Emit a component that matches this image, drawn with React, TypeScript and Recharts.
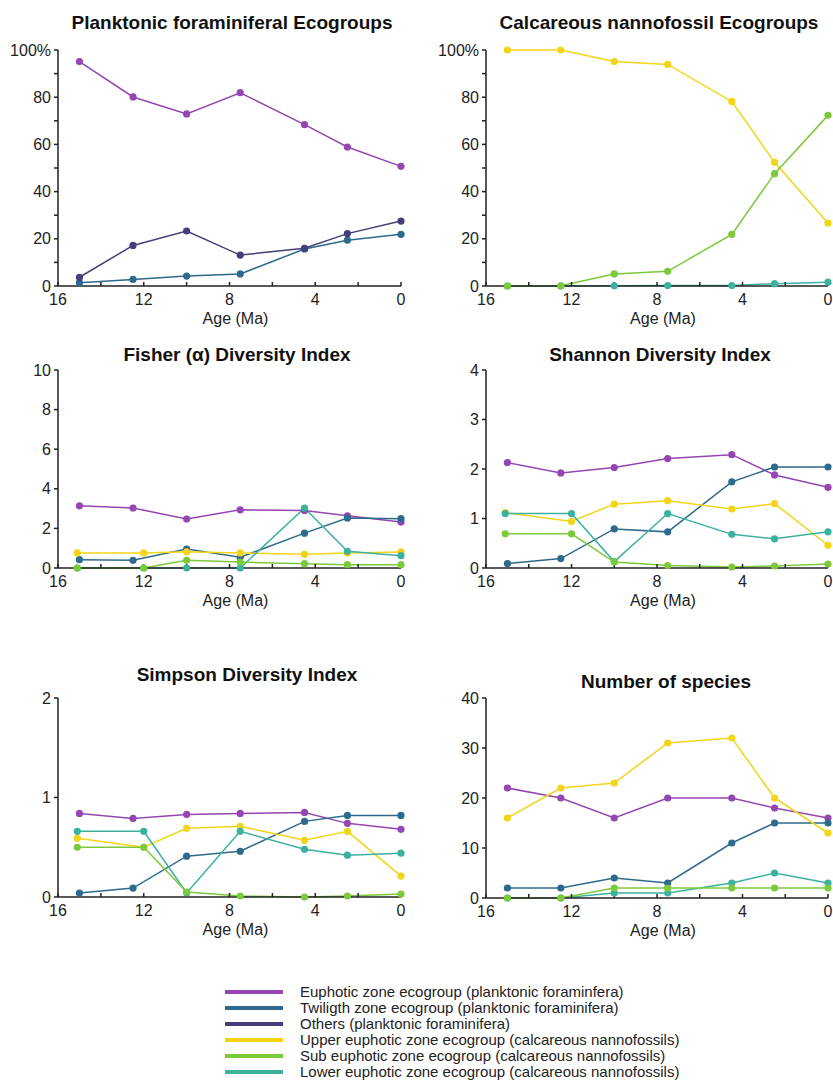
import React from 'react';
import { LineChart, Line, XAxis, YAxis } from 'recharts';

// sample ages (Ma)
const AGES = [15, 12.5, 10, 7.5, 4.5, 2.5, 0];
const AGES_CN_IDX = [15.1, 12, 10, 7.5, 4.5, 2.5, 0]; // nannofossil points in the diversity panels

// Planktonic foraminiferal ecogroups (%)
const pfEuphoticPct = [95.1, 80.1, 72.9, 81.9, 68.4, 58.9, 50.7];
const pfTwilightPct = [1.4, 2.8, 4.2, 5.1, 15.7, 19.4, 21.9];
const pfOthersPct = [3.7, 17.2, 23.3, 13.1, 16.0, 22.2, 27.5];

// Calcareous nannofossil ecogroups (%)
const cnUpperPct = [100, 100, 95.1, 93.9, 78.2, 52.4, 26.7];
const cnSubPct = [0, 0.1, 5.1, 6.2, 21.9, 47.6, 72.3];
const cnLowerPct = [0, 0, 0.1, 0.2, 0.2, 1.0, 1.6];

// Fisher alpha
const fisherEuphotic = [3.14, 3.03, 2.47, 2.94, 2.91, 2.64, 2.32];
const fisherTwilight = [0.42, 0.39, 0.96, 0.54, 1.76, 2.52, 2.49];
const fisherUpper = [0.76, 0.76, 0.82, 0.76, 0.69, 0.76, 0.81];
const fisherLower = [0, 0, 0, 0, 3.03, 0.84, 0.62];
const fisherSub = [0, 0, 0.39, 0.3, 0.22, 0.17, 0.17];

// Shannon
const shEuphotic = [2.13, 1.92, 2.03, 2.21, 2.29, 1.88, 1.63];
const shTwilight = [0.09, 0.19, 0.79, 0.73, 1.74, 2.04, 2.04];
const shUpper = [1.12, 0.94, 1.29, 1.36, 1.19, 1.3, 0.46];
const shLower = [1.1, 1.1, 0.13, 1.1, 0.68, 0.59, 0.73];
const shSub = [0.69, 0.69, 0.12, 0.05, 0.02, 0.04, 0.08];

// Simpson
const siEuphotic = [0.84, 0.79, 0.83, 0.84, 0.85, 0.74, 0.68];
const siTwilight = [0.04, 0.09, 0.41, 0.46, 0.76, 0.82, 0.82];
const siUpper = [0.59, 0.5, 0.69, 0.71, 0.57, 0.66, 0.21];
const siLower = [0.66, 0.66, 0.04, 0.66, 0.48, 0.42, 0.44];
const siSub = [0.5, 0.5, 0.05, 0.01, 0.0, 0.01, 0.03];

// Number of species
const spEuphotic = [22, 20, 16, 20, 20, 18, 16];
const spTwilight = [2, 2, 4, 3, 11, 15, 15];
const spUpper = [16, 22, 23, 31, 32, 20, 13];
const spLower = [0, 0, 1, 1, 3, 5, 3];
const spSub = [0, 0, 2, 2, 2, 2, 2];

const C_EUPHOTIC = '#9446b2';
const C_TWILIGHT = '#2d6a8c';
const C_OTHERS = '#443f78';
const C_UPPER = '#f2d516';
const C_SUB = '#7cc93c';
const C_LOWER = '#3db1a0';

const LEGEND = [
  { label: 'Euphotic zone ecogroup (planktonic foraminfera)', color: C_EUPHOTIC },
  { label: 'Twiligth zone ecogroup (planktonic foraminifera)', color: C_TWILIGHT },
  { label: 'Others (planktonic foraminifera)', color: C_OTHERS },
  { label: 'Upper euphotic zone ecogroup (calcareous nannofossils)', color: C_UPPER },
  { label: 'Sub euphotic zone ecogroup (calcareous nannofossils)', color: C_SUB },
  { label: 'Lower euphotic zone ecogroup (calcareous nannofossils)', color: C_LOWER },
];

const FONT = '"Liberation Sans", Arial, Helvetica, sans-serif';
const X_TICKS = [0, 2, 4, 6, 8, 10, 12, 14, 16];

type Series = { name: string; color: string; ages: number[]; values: number[] };

const toPoints = (ages: number[], values: number[]) =>
  ages.map((age, i) => ({ age, v: values[i] }));

interface PanelProps {
  title: string;
  titleX: number;
  titleY: number;
  plotLeft: number;
  plotTop: number;
  plotW: number;
  plotH: number;
  yMax: number;
  yTicks: number[];
  yFormat: (v: number) => string;
  series: Series[];
}

const Panel: React.FC<PanelProps> = ({ title, titleX, titleY, plotLeft, plotTop, plotW, plotH, yMax, yTicks, yFormat, series }) => {
  const width = plotW + 58 + 14;
  const height = plotH + 20 + 42;
  return (
    <>
      <div
        style={{
          position: 'absolute',
          left: titleX,
          top: titleY,
          transform: 'translate(-50%, -50%)',
          whiteSpace: 'nowrap',
          fontFamily: FONT,
          fontWeight: 'bold',
          fontSize: 19,
          color: '#111',
        }}
      >
        {title}
      </div>
      <div style={{ position: 'absolute', left: plotLeft - 58, top: plotTop - 20 }}>
        <LineChart width={width} height={height} margin={{ top: 20, right: 14, bottom: 0, left: 8 }}>
          <XAxis
            type="number"
            dataKey="age"
            domain={[0, 16]}
            reversed
            ticks={X_TICKS}
            interval={0}
            tickFormatter={(v: number) => (v % 4 === 0 ? String(v) : '')}
            tickSize={-4}
            tickMargin={12}
            height={42}
            stroke="#222"
            strokeWidth={1.5}
            tick={{ fill: '#222', fontSize: 16, fontFamily: FONT }}
            label={{ value: 'Age (Ma)', position: 'insideBottom', offset: 4, dx: 6, fill: '#222', fontSize: 16, fontFamily: FONT }}
          />
          <YAxis
            type="number"
            domain={[0, yMax]}
            ticks={yTicks}
            interval={0}
            tickFormatter={yFormat}
            width={50}
            tickSize={4}
            tickMargin={3}
            stroke="#222"
            strokeWidth={1.5}
            tick={{ fill: '#222', fontSize: 16, fontFamily: FONT }}
          />
          {series.map((s) => (
            <Line
              key={s.name}
              data={toPoints(s.ages, s.values)}
              dataKey="v"
              name={s.name}
              type="linear"
              stroke={s.color}
              strokeWidth={1.5}
              dot={{ r: 3.6, fill: s.color, stroke: s.color, strokeWidth: 0 }}
              isAnimationActive={false}
            />
          ))}
        </LineChart>
      </div>
    </>
  );
};

const pctFormat = (v: number) => (v === 100 ? '100%' : v % 20 === 0 ? String(v) : '');
const plainFormat = (v: number) => String(v);

const App: React.FC = () => {
  return (
    <div style={{ position: 'absolute', left: 0, top: 0, width: 833, height: 1080, background: '#fff', overflow: 'hidden' }}>
      <Panel
        title="Planktonic foraminiferal Ecogroups"
        titleX={232}
        titleY={23}
        plotLeft={58}
        plotTop={50}
        plotW={343}
        plotH={236}
        yMax={100}
        yTicks={[0, 10, 20, 30, 40, 50, 60, 70, 80, 90, 100]}
        yFormat={pctFormat}
        series={[
          { name: 'Euphotic', color: C_EUPHOTIC, ages: AGES, values: pfEuphoticPct },
          { name: 'Twilight', color: C_TWILIGHT, ages: AGES, values: pfTwilightPct },
          { name: 'Others', color: C_OTHERS, ages: AGES, values: pfOthersPct },
        ]}
      />
      <Panel
        title="Calcareous nannofossil Ecogroups"
        titleX={659}
        titleY={23}
        plotLeft={486}
        plotTop={50}
        plotW={342}
        plotH={236}
        yMax={100}
        yTicks={[0, 10, 20, 30, 40, 50, 60, 70, 80, 90, 100]}
        yFormat={pctFormat}
        series={[
          { name: 'Upper', color: C_UPPER, ages: AGES, values: cnUpperPct },
          { name: 'Lower', color: C_LOWER, ages: AGES, values: cnLowerPct },
          { name: 'Sub', color: C_SUB, ages: AGES, values: cnSubPct },
        ]}
      />
      <Panel
        title="Fisher (α) Diversity Index"
        titleX={237}
        titleY={355}
        plotLeft={58}
        plotTop={370}
        plotW={343}
        plotH={198}
        yMax={10}
        yTicks={[0, 2, 4, 6, 8, 10]}
        yFormat={plainFormat}
        series={[
          { name: 'Euphotic', color: C_EUPHOTIC, ages: AGES, values: fisherEuphotic },
          { name: 'Twilight', color: C_TWILIGHT, ages: AGES, values: fisherTwilight },
          { name: 'Upper', color: C_UPPER, ages: AGES_CN_IDX, values: fisherUpper },
          { name: 'Lower', color: C_LOWER, ages: AGES_CN_IDX, values: fisherLower },
          { name: 'Sub', color: C_SUB, ages: AGES_CN_IDX, values: fisherSub },
        ]}
      />
      <Panel
        title="Shannon Diversity Index"
        titleX={660}
        titleY={355}
        plotLeft={486}
        plotTop={370}
        plotW={342}
        plotH={198}
        yMax={4}
        yTicks={[0, 1, 2, 3, 4]}
        yFormat={plainFormat}
        series={[
          { name: 'Euphotic', color: C_EUPHOTIC, ages: AGES, values: shEuphotic },
          { name: 'Twilight', color: C_TWILIGHT, ages: AGES, values: shTwilight },
          { name: 'Upper', color: C_UPPER, ages: AGES_CN_IDX, values: shUpper },
          { name: 'Lower', color: C_LOWER, ages: AGES_CN_IDX, values: shLower },
          { name: 'Sub', color: C_SUB, ages: AGES_CN_IDX, values: shSub },
        ]}
      />
      <Panel
        title="Simpson Diversity Index"
        titleX={247}
        titleY={675}
        plotLeft={58}
        plotTop={698}
        plotW={343}
        plotH={199}
        yMax={2}
        yTicks={[0, 1, 2]}
        yFormat={plainFormat}
        series={[
          { name: 'Euphotic', color: C_EUPHOTIC, ages: AGES, values: siEuphotic },
          { name: 'Twilight', color: C_TWILIGHT, ages: AGES, values: siTwilight },
          { name: 'Upper', color: C_UPPER, ages: AGES_CN_IDX, values: siUpper },
          { name: 'Lower', color: C_LOWER, ages: AGES_CN_IDX, values: siLower },
          { name: 'Sub', color: C_SUB, ages: AGES_CN_IDX, values: siSub },
        ]}
      />
      <Panel
        title="Number of species"
        titleX={666}
        titleY={682}
        plotLeft={486}
        plotTop={698}
        plotW={342}
        plotH={200}
        yMax={40}
        yTicks={[0, 10, 20, 30, 40]}
        yFormat={plainFormat}
        series={[
          { name: 'Euphotic', color: C_EUPHOTIC, ages: AGES, values: spEuphotic },
          { name: 'Twilight', color: C_TWILIGHT, ages: AGES, values: spTwilight },
          { name: 'Upper', color: C_UPPER, ages: AGES, values: spUpper },
          { name: 'Lower', color: C_LOWER, ages: AGES, values: spLower },
          { name: 'Sub', color: C_SUB, ages: AGES, values: spSub },
        ]}
      />
      <div style={{ position: 'absolute', left: 225, top: 984, fontFamily: FONT, fontSize: 15, color: '#222' }}>
        {LEGEND.map((item) => (
          <div key={item.label} style={{ display: 'flex', alignItems: 'center', height: 16, lineHeight: '16px', whiteSpace: 'nowrap' }}>
            <span style={{ display: 'inline-block', width: 58, height: 4, background: item.color, marginRight: 17 }} />
            <span>{item.label}</span>
          </div>
        ))}
      </div>
    </div>
  );
};

export default App;
